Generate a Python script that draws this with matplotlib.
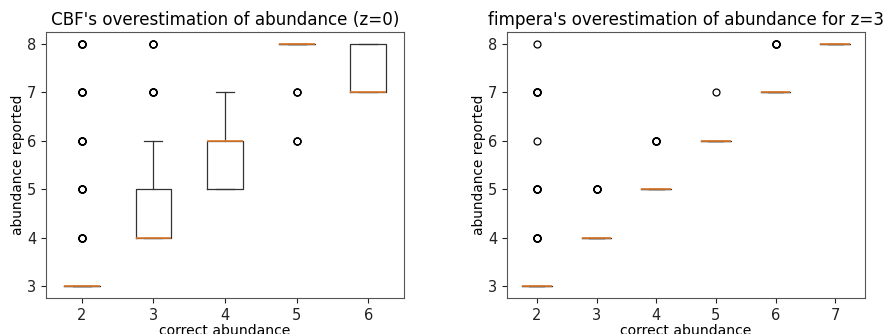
import matplotlib
matplotlib.use("Agg")
import matplotlib.pyplot as plt

# ---- data ----
cbf_positions = [2, 3, 4, 5, 6]
cbf_q1 = [3, 4, 5, 8, 7]
cbf_med = [3, 4, 6, 8, 7]
cbf_q3 = [3, 5, 6, 8, 8]
cbf_whislo = [3, 4, 5, 8, 7]
cbf_whishi = [3, 6, 7, 8, 8]
cbf_fliers = [[4, 5, 6, 7, 8], [7, 8], [], [6, 7], []]
cbf_flier_counts = [[6, 6, 6, 6, 6], [6, 4], [], [3, 3], []]

fim_positions = [2, 3, 4, 5, 6, 7]
fim_q1 = [3, 4, 5, 6, 7, 8]
fim_med = [3, 4, 5, 6, 7, 8]
fim_q3 = [3, 4, 5, 6, 7, 8]
fim_whislo = [3, 4, 5, 6, 7, 8]
fim_whishi = [3, 4, 5, 6, 7, 8]
fim_fliers = [[4, 5, 6, 7, 8], [5], [6], [7], [8], []]
fim_flier_counts = [[6, 6, 1, 6, 1], [6], [6], [1], [6], []]

titles = ["CBF's overestimation of abundance (z=0)",
          "fimpera's overestimation of abundance for z=3"]
xlabel = "correct abundance"
ylabel = "abundance reported"


def make_stats(q1, med, q3, lo, hi, fl, cnt):
    stats = []
    for i in range(len(q1)):
        fvals = []
        for v, c in zip(fl[i], cnt[i]):
            fvals += [v] * c
        stats.append(dict(q1=q1[i], med=med[i], q3=q3[i],
                          whislo=lo[i], whishi=hi[i], fliers=fvals))
    return stats


fig = plt.figure(figsize=(8.86, 3.34), dpi=100)
ax1 = fig.add_axes([46 / 886, 36 / 334, 358 / 886, 266 / 334])
ax2 = fig.add_axes([507 / 886, 36 / 334, 358 / 886, 266 / 334])

flierprops = dict(marker='o', markersize=5, markerfacecolor='none',
                  markeredgecolor='black', markeredgewidth=0.9)

for ax, stats, pos, title in [
    (ax1, make_stats(cbf_q1, cbf_med, cbf_q3, cbf_whislo, cbf_whishi,
                     cbf_fliers, cbf_flier_counts), cbf_positions, titles[0]),
    (ax2, make_stats(fim_q1, fim_med, fim_q3, fim_whislo, fim_whishi,
                     fim_fliers, fim_flier_counts), fim_positions, titles[1]),
]:
    ax.bxp(stats, positions=pos, widths=0.5, flierprops=flierprops,
           boxprops=dict(linewidth=0.9, color='#333333'),
           whiskerprops=dict(linewidth=0.9, color='#333333'),
           capprops=dict(linewidth=0.9, color='#333333'),
           medianprops=dict(linewidth=1.2, color='#e07b2a'))
    ax.set_xlim(pos[0] - 0.5, pos[-1] + 0.5)
    ax.set_ylim(2.75, 8.25)
    ax.set_yticks([3, 4, 5, 6, 7, 8])
    ax.set_xticks(pos)
    ax.set_xticklabels([str(p) for p in pos])
    ax.tick_params(labelsize=10.5, length=3.5, colors='#222222')
    ax.set_title(title, fontsize=12.05, pad=5)
    ax.set_xlabel(xlabel, fontsize=10.1, labelpad=1)
    ax.set_ylabel(ylabel, fontsize=9.9, labelpad=1.5)
    for s in ax.spines.values():
        s.set_color('#555555')

fig.savefig("out.png", dpi=100)
